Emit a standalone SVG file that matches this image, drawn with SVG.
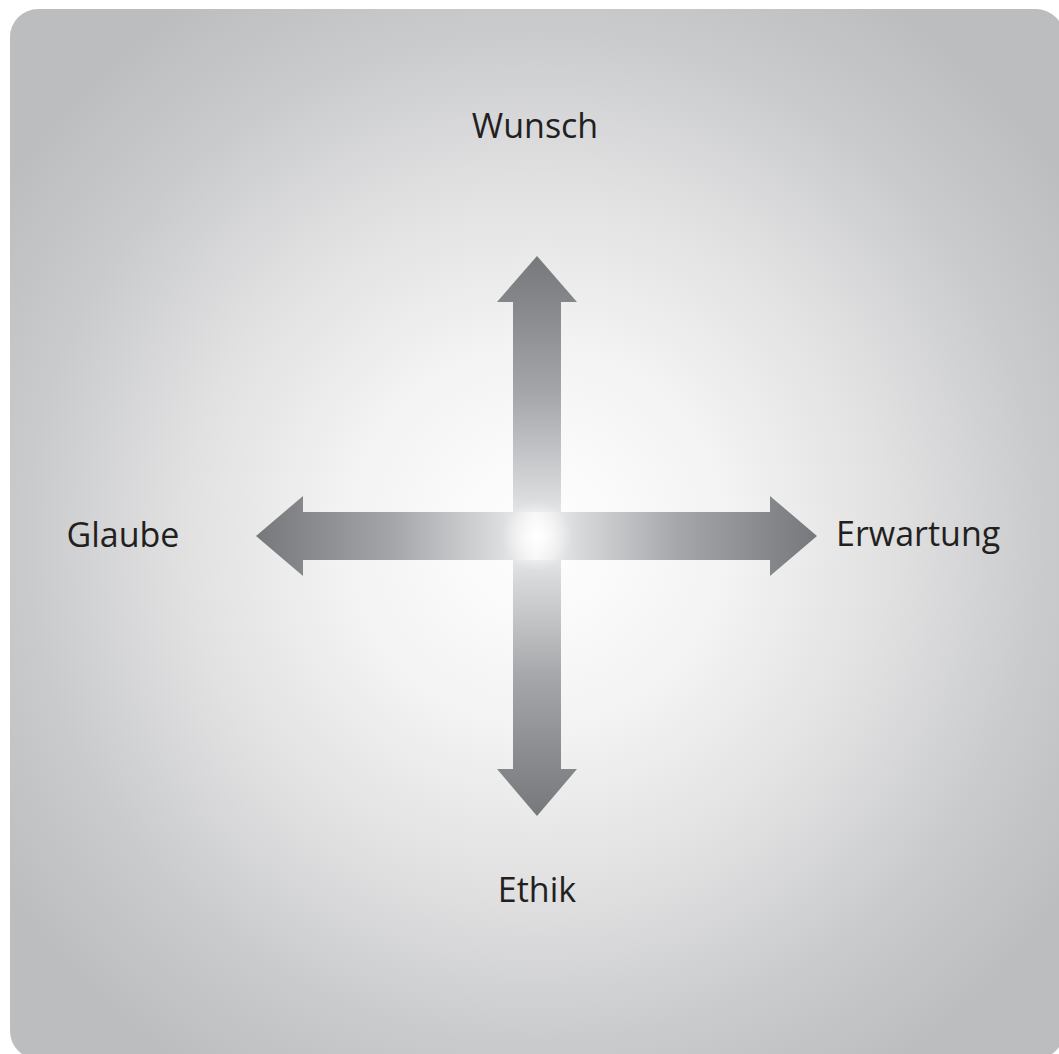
<svg xmlns="http://www.w3.org/2000/svg" width="1059" height="1054" viewBox="0 0 1059 1054">
<defs>
<radialGradient id="bg" gradientUnits="userSpaceOnUse" cx="537" cy="536" r="640">
<stop offset="0" stop-color="#ffffff"/>
<stop offset="0.3" stop-color="#f3f3f3"/>
<stop offset="0.55" stop-color="#e1e1e2"/>
<stop offset="0.8" stop-color="#c9cacc"/>
<stop offset="1" stop-color="#bcbdbf"/>
</radialGradient>
<linearGradient id="gUp" gradientUnits="userSpaceOnUse" x1="0" y1="536" x2="0" y2="256">
<stop offset="0" stop-color="#f4f4f4"/>
<stop offset="0.15" stop-color="#d8d9db"/>
<stop offset="0.5" stop-color="#a6a7aa"/>
<stop offset="0.82" stop-color="#87888b"/>
<stop offset="1" stop-color="#77787b"/>
</linearGradient>
<linearGradient id="gDown" gradientUnits="userSpaceOnUse" x1="0" y1="536" x2="0" y2="816" href="#gUp"/>
<linearGradient id="gLeft" gradientUnits="userSpaceOnUse" x1="536" y1="0" x2="256" y2="0" href="#gUp"/>
<linearGradient id="gRight" gradientUnits="userSpaceOnUse" x1="537" y1="0" x2="817" y2="0" href="#gUp"/>
<radialGradient id="glow" gradientUnits="userSpaceOnUse" cx="537" cy="536" r="35">
<stop offset="0" stop-color="#ffffff" stop-opacity="1"/>
<stop offset="1" stop-color="#ffffff" stop-opacity="0"/>
</radialGradient>
</defs>
<style>
.lbl { font-family: "Open Sans", "Noto Sans", "Liberation Sans", sans-serif; font-size: 34px; fill: #231f20; }
</style>
<rect x="10" y="9" width="1054" height="1050" rx="28" ry="28" fill="url(#bg)"/>
<g id="connectors">
<polygon id="arrow-up" points="513,536 513,302 497,302 537,256 577,302 561,302 561,536" fill="url(#gUp)"/>
<polygon id="arrow-down" points="513,536 513,769 497,769 537,816 577,769 561,769 561,536" fill="url(#gDown)"/>
<polygon id="arrow-left" points="537,512 303,512 303,496 256,536 303,576 303,560 537,560" fill="url(#gLeft)"/>
<polygon id="arrow-right" points="536,512 770,512 770,496 817,536 770,576 770,560 536,560" fill="url(#gRight)"/>
<rect x="502" y="501" width="70" height="70" fill="url(#glow)"/>
</g>
<g id="node-wunsch"><text class="lbl" x="535" y="138" text-anchor="middle">Wunsch</text></g>
<g id="node-glaube"><text class="lbl" x="123" y="547" text-anchor="middle">Glaube</text></g>
<g id="node-erwartung"><text class="lbl" x="836" y="546">Erwartung</text></g>
<g id="node-ethik"><text class="lbl" x="537" y="902" text-anchor="middle">Ethik</text></g>
</svg>
